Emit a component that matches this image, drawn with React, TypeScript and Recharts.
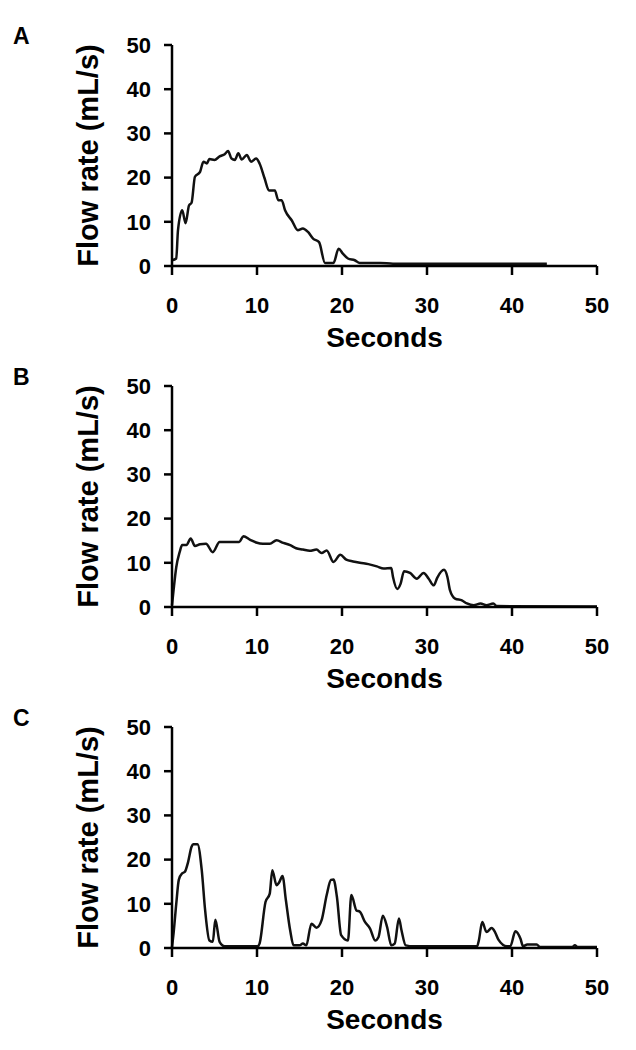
import { LineChart, Line, XAxis, YAxis } from 'recharts'

// Seconds / flow rate (mL/s)
const timeA = [0, 0.5, 0.7, 1.2, 1.6, 2.0, 2.3, 2.7, 3.3, 3.7, 4.1, 4.4, 5.0, 5.6, 6.2, 6.6, 7.0, 7.4, 7.8, 8.2, 8.8, 9.3, 9.9, 10.3, 10.9, 11.4, 12.1, 12.5, 12.9, 13.3, 14.1, 14.8, 15.4, 16.0, 16.6, 17.3, 18.0, 19.0, 19.6, 20.1, 20.7, 21.5, 22.1, 24.5, 26, 44.1]
const flowA = [1.3, 1.7, 8, 12.6, 9.7, 13.7, 14.3, 20.2, 21.3, 23.6, 23.2, 24.2, 24, 24.8, 25.3, 26, 24.3, 24, 25.5, 24.1, 25.1, 23.6, 24.3, 23.2, 19.8, 17.1, 17.1, 14.9, 14.9, 12.6, 10.3, 8.1, 8.5, 7.7, 6.2, 5.4, 0.7, 0.7, 3.9, 2.8, 1.7, 1.3, 0.7, 0.7, 0.5, 0.5]

const timeB = [0, 0.2, 0.5, 0.9, 1.2, 1.7, 2.2, 2.7, 3.3, 4.0, 4.8, 5.6, 6.4, 7.4, 7.9, 8.4, 9.2, 9.9, 10.7, 11.5, 12.3, 13.1, 13.9, 14.6, 15.4, 16.2, 17.0, 17.6, 18.2, 19.0, 19.8, 20.5, 21.3, 22.1, 23.1, 24.1, 24.9, 25.8, 26.0, 26.5, 26.9, 27.3, 28.0, 28.8, 29.6, 30.2, 30.8, 31.2, 32.0, 32.4, 32.7, 33.3, 34.1, 34.7, 35.5, 36.3, 37, 37.8, 38.2, 50]
const flowB = [0.4, 4.1, 9, 12.4, 14, 14, 15.5, 13.8, 14.2, 14.3, 12.4, 14.7, 14.7, 14.7, 14.7, 16.0, 15.2, 14.6, 14.3, 14.3, 15.1, 14.5, 14.0, 13.3, 13.0, 12.7, 13.0, 12.2, 12.8, 10.2, 11.8, 10.7, 10.3, 10.0, 9.7, 9.2, 8.7, 8.8, 6.8, 4.1, 5.3, 8.1, 7.7, 6.4, 7.7, 6.4, 4.9, 6.6, 8.4, 6.8, 3.8, 1.9, 1.5, 0.8, 0.4, 0.8, 0.4, 0.8, 0.2, 0.1]

const timeC = [0, 0.2, 0.5, 0.8, 1.2, 1.5, 1.9, 2.3, 2.5, 3.0, 3.5, 3.9, 4.4, 4.8, 5.1, 5.6, 6.2, 6.8, 10.1, 10.3, 11.0, 11.5, 11.8, 12.3, 12.6, 13.0, 13.4, 13.9, 14.3, 15.0, 15.4, 15.8, 16.4, 17.0, 17.6, 18.2, 18.7, 19.0, 19.4, 19.9, 20.7, 21.1, 21.7, 22.1, 22.7, 23.3, 23.9, 24.3, 24.8, 25.3, 25.8, 26.2, 26.7, 27.0, 27.5, 28.4, 35.9, 36.1, 36.5, 37.0, 37.6, 38.0, 38.4, 39.4, 39.8, 40.4, 41.0, 41.3, 41.8, 42.9, 43.3, 47.1, 47.4, 47.7, 50]
const flowC = [0.2, 3.6, 10, 15.4, 16.9, 17.2, 19.5, 22.9, 23.5, 23.5, 17.6, 8.5, 1.7, 1.4, 6.4, 1.4, 0.4, 0.4, 0.4, 1.0, 10.4, 12.3, 17.6, 14.2, 14.8, 16.3, 10.8, 4.0, 0.6, 0.6, 1.0, 0.6, 5.5, 4.6, 6.3, 12, 15.4, 15.5, 11.6, 2.9, 1.7, 12.0, 8.5, 8.2, 5.9, 4.4, 1.7, 2.5, 7.3, 4.8, 0.6, 1.0, 6.7, 4.0, 0.6, 0.4, 0.4, 1.7, 5.9, 3.6, 4.5, 3.6, 1.9, 0.4, 0.4, 3.8, 2.1, 0.4, 0.8, 0.8, 0.2, 0.2, 0.6, 0.2, 0.2]

const panelLetters = ['A', 'B', 'C']
const secondTicks = [0, 10, 20, 30, 40, 50]
const flowTicks = [0, 10, 20, 30, 40, 50]

const FONT = '"Liberation Sans", Arial, Helvetica, sans-serif'
const PANEL_STEP = 341

const tickStyle = { fill: '#000', fontSize: 22, fontWeight: 'bold', fontFamily: FONT }
const axisLine = { stroke: '#000', strokeWidth: 2.5 }

function Panel({ letter, times, flows, index }: { letter: string; times: number[]; flows: number[]; index: number }) {
  const data = times.map((t, i) => ({ t, flow: flows[i] }))

  return (
    <div style={{ position: 'absolute', left: 0, top: index * PANEL_STEP, width: 636, height: 360 }}>
      <div
        style={{
          position: 'absolute',
          left: 13,
          top: 25,
          fontFamily: FONT,
          fontWeight: 'bold',
          fontSize: 23,
          lineHeight: '23px',
          color: '#000',
        }}
      >
        {letter}
      </div>
      <LineChart width={636} height={360} data={data} margin={{ top: 45, right: 39, bottom: 0, left: 0 }}>
        <XAxis
          dataKey="t"
          type="number"
          domain={[0, 50]}
          ticks={secondTicks}
          interval={0}
          height={94}
          tickSize={9}
          tickMargin={22}
          tick={tickStyle}
          axisLine={axisLine}
          tickLine={axisLine}
          label={{
            value: 'Seconds',
            position: 'insideBottom',
            offset: 13,
            fill: '#000',
            fontSize: 28,
            fontWeight: 'bold',
            fontFamily: FONT,
          }}
        />
        <YAxis
          type="number"
          domain={[0, 50]}
          ticks={flowTicks}
          interval={0}
          width={172}
          tickSize={8}
          tickMargin={13}
          tick={tickStyle}
          axisLine={axisLine}
          tickLine={axisLine}
          label={{
            value: 'Flow rate (mL/s)',
            angle: -90,
            position: 'insideLeft',
            offset: 88,
            fill: '#000',
            fontSize: 29,
            fontWeight: 'bold',
            fontFamily: FONT,
            style: { textAnchor: 'middle' },
          }}
        />
        <Line
          type="monotone"
          dataKey="flow"
          stroke="#111"
          strokeWidth={2.5}
          dot={false}
          isAnimationActive={false}
        />
      </LineChart>
    </div>
  )
}

export default function App() {
  const series = [
    { times: timeA, flows: flowA },
    { times: timeB, flows: flowB },
    { times: timeC, flows: flowC },
  ]

  return (
    <div style={{ position: 'absolute', left: 0, top: 0, width: 636, height: 1050, background: '#fff' }}>
      {series.map((s, i) => (
        <Panel key={panelLetters[i]} letter={panelLetters[i]} times={s.times} flows={s.flows} index={i} />
      ))}
    </div>
  )
}
